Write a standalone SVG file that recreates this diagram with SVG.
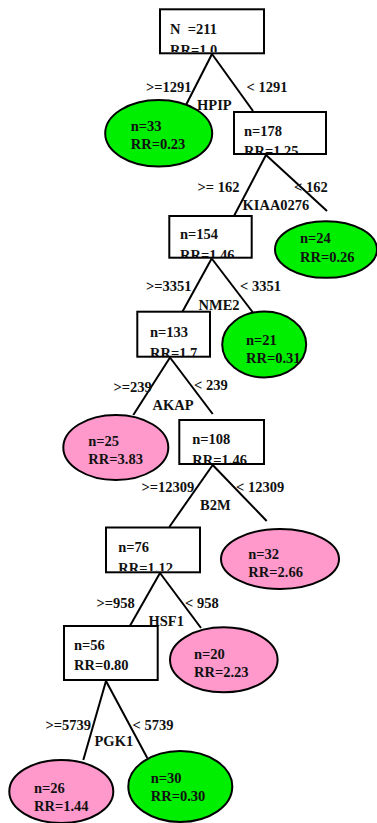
<svg xmlns="http://www.w3.org/2000/svg" width="377" height="823" viewBox="0 0 377 823">
<style>
text{font-family:"Liberation Serif","Times New Roman",serif;font-weight:bold;font-size:14.5px;fill:#111}
.box{fill:#fff;stroke:#000;stroke-width:2}
.g{fill:#00ee00;stroke:#000;stroke-width:2}
.p{fill:#ff99cc;stroke:#000;stroke-width:2}
.c line{stroke:#000;stroke-width:2}
</style>
<defs>
<clipPath id="c0"><rect x="161" y="10" width="102" height="42"/></clipPath>
<clipPath id="c1"><rect x="235" y="113" width="90" height="40"/></clipPath>
<clipPath id="c2"><rect x="170" y="217" width="81" height="40"/></clipPath>
<clipPath id="c3"><rect x="138" y="312" width="71" height="44"/></clipPath>
<clipPath id="c4"><rect x="180" y="421" width="83" height="42"/></clipPath>
<clipPath id="c5"><rect x="107" y="528" width="92" height="43"/></clipPath>
</defs>
<g id="connectors" class="c">
<line x1="212" y1="54" x2="186" y2="105"/>
<line x1="212" y1="54" x2="253" y2="111"/>
<line x1="266" y1="155" x2="234" y2="216"/>
<line x1="266" y1="155" x2="327" y2="211"/>
<line x1="211.7" y1="258.5" x2="181.7" y2="313"/>
<line x1="211.7" y1="258.5" x2="253.3" y2="313"/>
<line x1="170" y1="357.5" x2="133.3" y2="415"/>
<line x1="170" y1="357.5" x2="212.7" y2="414"/>
<line x1="212.7" y1="465" x2="169.3" y2="527"/>
<line x1="212.7" y1="465" x2="266.7" y2="521"/>
<line x1="160" y1="573" x2="129.3" y2="627"/>
<line x1="160" y1="573" x2="201" y2="628"/>
<line x1="106" y1="681" x2="83.3" y2="760"/>
<line x1="106" y1="681" x2="147.3" y2="758"/>
</g>
<g id="edge-labels">
<text x="146" y="92">&gt;=1291</text>
<text x="246.5" y="92">&lt; 1291</text>
<text x="197" y="110">HPIP</text>
<text x="197.5" y="192">&gt;= 162</text>
<text x="294" y="192">&lt; 162</text>
<text x="242.5" y="210">KIAA0276</text>
<text x="146" y="291">&gt;=3351</text>
<text x="240" y="291">&lt; 3351</text>
<text x="198.5" y="309.5">NME2</text>
<text x="113.5" y="392">&gt;=239</text>
<text x="194" y="390">&lt; 239</text>
<text x="152.5" y="409.5">AKAP</text>
<text x="141.5" y="492">&gt;=12309</text>
<text x="236" y="492">&lt; 12309</text>
<text x="200" y="509.5">B2M</text>
<text x="96.5" y="607.5">&gt;=958</text>
<text x="185" y="607.5">&lt; 958</text>
<text x="148.5" y="626">HSF1</text>
<text x="45.5" y="729.5">&gt;=5739</text>
<text x="132.5" y="729.5">&lt; 5739</text>
<text x="94.5" y="746">PGK1</text>
</g>
<g id="node-root">
<rect class="box" x="160" y="9.3" width="104" height="44"/>
<g clip-path="url(#c0)"><text x="170" y="34.3" xml:space="preserve">N  =211</text><text x="170" y="54.5">RR=1.0</text></g>
</g>
<g id="node-n33">
<ellipse class="g" cx="158.7" cy="133.3" rx="53.5" ry="33.3"/>
<text x="130.7" y="130.7">n=33</text><text x="130.7" y="149">RR=0.23</text>
</g>
<g id="node-n178">
<rect class="box" x="234" y="112" width="92" height="42"/>
<g clip-path="url(#c1)"><text x="244" y="135.7">n=178</text><text x="244" y="156">RR=1.25</text></g>
</g>
<g id="node-n154">
<rect class="box" x="169.3" y="216" width="82.4" height="41.7"/>
<g clip-path="url(#c2)"><text x="180" y="239.3">n=154</text><text x="180" y="259.5">RR=1.46</text></g>
</g>
<g id="node-n24">
<ellipse class="g" cx="326" cy="249.5" rx="51" ry="28.3"/>
<text x="300" y="243.3">n=24</text><text x="300" y="261.7">RR=0.26</text>
</g>
<g id="node-n133">
<rect class="box" x="137.3" y="311.7" width="72.7" height="45"/>
<g clip-path="url(#c3)"><text x="150" y="337.3">n=133</text><text x="150" y="358">RR=1.7</text></g>
</g>
<g id="node-n21">
<ellipse class="g" cx="264.2" cy="344.5" rx="42" ry="33"/>
<text x="246" y="345">n=21</text><text x="246" y="362.7">RR=0.31</text>
</g>
<g id="node-n25">
<ellipse class="p" cx="115.8" cy="447.5" rx="52.5" ry="32.5"/>
<text x="88.3" y="446">n=25</text><text x="88.3" y="464">RR=3.83</text>
</g>
<g id="node-n108">
<rect class="box" x="179.3" y="420" width="84.7" height="44"/>
<g clip-path="url(#c4)"><text x="192.3" y="444">n=108</text><text x="192.3" y="464.5">RR=1.46</text></g>
</g>
<g id="node-n76">
<rect class="box" x="106" y="527.5" width="94" height="44.8"/>
<g clip-path="url(#c5)"><text x="118.3" y="551.7">n=76</text><text x="118.3" y="573">RR=1.12</text></g>
</g>
<g id="node-n32">
<ellipse class="p" cx="280" cy="559" rx="59" ry="30"/>
<text x="248.3" y="559.3">n=32</text><text x="248.3" y="577.3">RR=2.66</text>
</g>
<g id="node-n56">
<rect class="box" x="64" y="626" width="93.7" height="54"/>
<text x="74" y="650">n=56</text><text x="74" y="670">RR=0.80</text>
</g>
<g id="node-n20">
<ellipse class="p" cx="223.8" cy="659.8" rx="53.8" ry="32.5"/>
<text x="194" y="659.3">n=20</text><text x="194" y="677.3">RR=2.23</text>
</g>
<g id="node-n26">
<ellipse class="p" cx="61.3" cy="791.5" rx="52" ry="31.5"/>
<text x="34" y="793.3">n=26</text><text x="34" y="810.7">RR=1.44</text>
</g>
<g id="node-n30">
<ellipse class="g" cx="180.3" cy="786.5" rx="52" ry="35.5"/>
<text x="150.7" y="783.3">n=30</text><text x="150.7" y="801">RR=0.30</text>
</g>
</svg>
